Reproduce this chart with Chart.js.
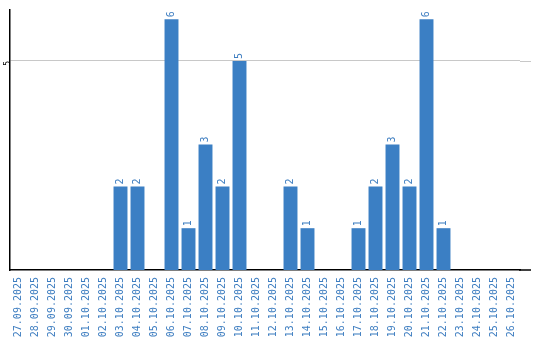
<!DOCTYPE html>
<html>
<head>
<meta charset="utf-8">
<script src="https://cdn.jsdelivr.net/npm/chart.js@4/dist/chart.umd.min.js"></script>
<style>
html,body{margin:0;padding:0;background:#fff;}
#wrap{width:540px;height:340px;position:relative;}
</style>
</head>
<body>
<div id="wrap"><canvas id="c" width="540" height="340"></canvas></div>
<script>
const categories = ["27.09.2025","28.09.2025","29.09.2025","30.09.2025","01.10.2025","02.10.2025","03.10.2025","04.10.2025","05.10.2025","06.10.2025","07.10.2025","08.10.2025","09.10.2025","10.10.2025","11.10.2025","12.10.2025","13.10.2025","14.10.2025","15.10.2025","16.10.2025","17.10.2025","18.10.2025","19.10.2025","20.10.2025","21.10.2025","22.10.2025","23.10.2025","24.10.2025","25.10.2025","26.10.2025"];
const counts = [0,0,0,0,0,0,2,2,0,6,1,3,2,5,0,0,2,1,0,0,1,2,3,2,6,1,0,0,0,0];
const yTickValues = [5];
const yMax = 6.22;

const BLUE = 'rgb(59,127,196)';
const LABEL_BLUE = 'rgb(61,125,192)';
const FONT = '"DejaVu Sans Mono", monospace';
const EXTRA_RIGHT = 11;

const valueLabels = {
  id: 'valueLabels',
  beforeDatasetsDraw(chart) {
    const ctx = chart.ctx;
    const a = chart.chartArea;
    const y = chart.scales.y;
    ctx.save();
    ctx.strokeStyle = '#c8c8c8';
    ctx.lineWidth = 1;
    yTickValues.forEach(v => {
      const py = Math.round(y.getPixelForValue(v)) + 0.5;
      ctx.beginPath();
      ctx.moveTo(a.right, py);
      ctx.lineTo(a.right + EXTRA_RIGHT, py);
      ctx.stroke();
    });
    ctx.strokeStyle = '#000';
    ctx.lineWidth = 1.5;
    const by = y.getPixelForValue(0);
    ctx.beginPath();
    ctx.moveTo(a.right - 1, by);
    ctx.lineTo(a.right + EXTRA_RIGHT, by);
    ctx.stroke();
    ctx.restore();
  },
  afterDatasetsDraw(chart) {
    const ctx = chart.ctx;
    const meta = chart.getDatasetMeta(0);
    ctx.save();
    ctx.fillStyle = LABEL_BLUE;
    ctx.font = '10px ' + FONT;
    ctx.textAlign = 'left';
    ctx.textBaseline = 'middle';
    meta.data.forEach((bar, i) => {
      const v = chart.data.datasets[0].data[i];
      if (!v) return;
      ctx.save();
      ctx.translate(bar.x, bar.y - 2);
      ctx.rotate(-Math.PI / 2);
      ctx.fillText(String(v), 0, 0);
      ctx.restore();
    });
    ctx.restore();
  }
};

new Chart(document.getElementById('c'), {
  type: 'bar',
  data: {
    labels: categories,
    datasets: [{
      data: counts,
      backgroundColor: BLUE,
      borderWidth: 0,
      barPercentage: 0.82,
      categoryPercentage: 1.0
    }]
  },
  options: {
    responsive: false,
    animation: false,
    devicePixelRatio: 1,
    layout: { padding: { top: 10, right: 20, left: 0, bottom: 0 } },
    plugins: { legend: { display: false }, tooltip: { enabled: false } },
    scales: {
      x: {
        grid: { display: false, drawTicks: false },
        border: { display: true, color: '#000', width: 1.5 },
        ticks: {
          color: LABEL_BLUE,
          font: { family: FONT, size: 10 },
          minRotation: 90, maxRotation: 90,
          autoSkip: false,
          padding: 7
        },
        afterFit(s) { s.height = 70; }
      },
      y: {
        min: 0, max: yMax,
        grid: { color: '#c8c8c8', drawTicks: false, lineWidth: 1 },
        border: { display: true, color: '#000', width: 1.5 },
        ticks: {
          color: '#000',
          font: { family: FONT, size: 8 },
          minRotation: 90, maxRotation: 90,
          padding: 2
        },
        afterBuildTicks(s) { s.ticks = yTickValues.map(v => ({ value: v })); },
        afterFit(s) { s.width = 10; }
      }
    }
  },
  plugins: [valueLabels]
});
</script>
</body>
</html>
